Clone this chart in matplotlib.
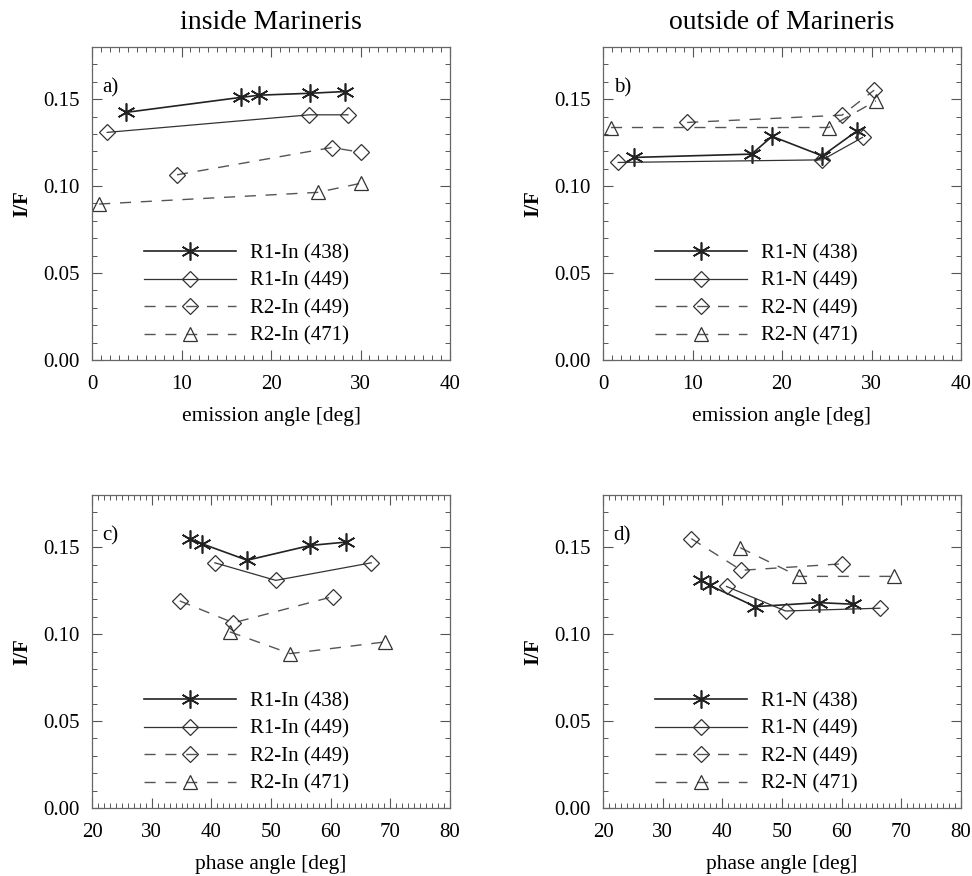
import matplotlib
matplotlib.use("Agg")
import matplotlib.pyplot as plt
from matplotlib.ticker import MultipleLocator, FormatStrFormatter

plt.rcParams['font.family'] = ['Liberation Serif', 'DejaVu Serif']

# emission angle data (panels a, b)
emi_in_r1_438 = [3.8, 16.6, 18.7, 24.4, 28.3]
iof_in_r1_438 = [0.1424, 0.1510, 0.1523, 0.1534, 0.1544]
emi_in_r1_449 = [1.7, 24.3, 28.6]
iof_in_r1_449 = [0.1309, 0.1410, 0.1410]
emi_in_r2_449 = [9.5, 26.8, 30.1]
iof_in_r2_449 = [0.1065, 0.1222, 0.1194]
emi_in_r2_471 = [0.8, 25.2, 30.1]
iof_in_r2_471 = [0.0897, 0.0964, 0.1017]

emi_n_r1_438 = [3.5, 16.6, 18.9, 24.5, 28.4]
iof_n_r1_438 = [0.1165, 0.1184, 0.1286, 0.1174, 0.1318]
emi_n_r1_449 = [1.7, 24.5, 29.0]
iof_n_r1_449 = [0.1136, 0.1151, 0.1280]
emi_n_r2_449 = [9.4, 26.7, 30.3]
iof_n_r2_449 = [0.1366, 0.1408, 0.1552]
emi_n_r2_471 = [0.9, 25.2, 30.5]
iof_n_r2_471 = [0.1337, 0.1337, 0.1490]

# phase angle data (panels c, d)
pha_in_r1_438 = [36.4, 38.4, 46.0, 56.6, 62.5]
pif_in_r1_438 = [0.1549, 0.1520, 0.1425, 0.1510, 0.1529]
pha_in_r1_449 = [40.6, 50.8, 66.8]
pif_in_r1_449 = [0.1410, 0.1309, 0.1410]
pha_in_r2_449 = [34.7, 43.7, 60.4]
pif_in_r2_449 = [0.1191, 0.1065, 0.1216]
pha_in_r2_471 = [43.1, 53.2, 69.1]
pif_in_r2_471 = [0.1013, 0.0888, 0.0955]

pha_n_r1_438 = [36.4, 37.9, 45.5, 56.2, 61.9]
pif_n_r1_438 = [0.1309, 0.1280, 0.1158, 0.1181, 0.1172]
pha_n_r1_449 = [40.7, 50.6, 66.4]
pif_n_r1_449 = [0.1274, 0.1133, 0.1149]
pha_n_r2_449 = [34.8, 43.2, 60.0]
pif_n_r2_449 = [0.1549, 0.1367, 0.1404]
pha_n_r2_471 = [43.0, 52.8, 68.7]
pif_n_r2_471 = [0.1497, 0.1332, 0.1332]

labels_in = ["R1-In (438)", "R1-In (449)", "R2-In (449)", "R2-In (471)"]
labels_n = ["R1-N (438)", "R1-N (449)", "R2-N (449)", "R2-N (471)"]

star = (6, 2, 0)
styles = [
    dict(marker=star, ms=13, color='#222222', ls='-', lw=1.2, mew=1.2),
    dict(marker='D', ms=8.5, color='#333333', ls='-', lw=0.9, mfc='none', mew=0.9),
    dict(marker='D', ms=8.5, color='#555555', ls=(0, (8, 7)), lw=1.0, mfc='none', mew=0.9, mec='#333333'),
    dict(marker='^', ms=10, color='#555555', ls=(0, (8, 7)), lw=1.0, mfc='none', mew=0.9, mec='#333333'),
]

fig = plt.figure(figsize=(9.72, 8.76), dpi=100)
W, H = 972, 876
def place(x0, y0, x1, y1):
    return fig.add_axes([x0 / W, 1 - y1 / H, (x1 - x0) / W, (y1 - y0) / H])

ax_a = place(92, 47, 450, 360)
ax_b = place(603, 47, 961, 360)
ax_c = place(92, 495, 450, 808)
ax_d = place(603, 495, 961, 808)

panels = [
    (ax_a, [(emi_in_r1_438, iof_in_r1_438), (emi_in_r1_449, iof_in_r1_449),
            (emi_in_r2_449, iof_in_r2_449), (emi_in_r2_471, iof_in_r2_471)],
     labels_in, 'a)', (0, 40), 'emission angle [deg]'),
    (ax_b, [(emi_n_r1_438, iof_n_r1_438), (emi_n_r1_449, iof_n_r1_449),
            (emi_n_r2_449, iof_n_r2_449), (emi_n_r2_471, iof_n_r2_471)],
     labels_n, 'b)', (0, 40), 'emission angle [deg]'),
    (ax_c, [(pha_in_r1_438, pif_in_r1_438), (pha_in_r1_449, pif_in_r1_449),
            (pha_in_r2_449, pif_in_r2_449), (pha_in_r2_471, pif_in_r2_471)],
     labels_in, 'c)', (20, 80), 'phase angle [deg]'),
    (ax_d, [(pha_n_r1_438, pif_n_r1_438), (pha_n_r1_449, pif_n_r1_449),
            (pha_n_r2_449, pif_n_r2_449), (pha_n_r2_471, pif_n_r2_471)],
     labels_n, 'd)', (20, 80), 'phase angle [deg]'),
]

for ax, series, labels, tag, xlim, xlabel in panels:
    for (x, y), lab, st in zip(series, labels, styles):
        ax.plot(x, y, label=lab, **st)
    ax.set_xlim(*xlim)
    ax.set_ylim(0, 0.18)
    ax.xaxis.set_major_locator(MultipleLocator(10))
    ax.xaxis.set_minor_locator(MultipleLocator(1))
    ax.yaxis.set_major_locator(MultipleLocator(0.05))
    ax.yaxis.set_minor_locator(MultipleLocator(0.01))
    ax.yaxis.set_major_formatter(FormatStrFormatter('%.2f'))
    ax.tick_params(which='both', direction='in', top=True, right=True,
                   colors='#555555', labelcolor='black', labelsize=15)
    ax.tick_params(which='major', length=7, width=0.8)
    ax.tick_params(which='minor', length=3.5, width=0.7)
    ax.tick_params(axis='y', pad=9)
    ax.tick_params(axis='x', pad=11)
    for sp in ax.spines.values():
        sp.set_color('#666666')
        sp.set_linewidth(0.9)
    ax.set_xlabel(xlabel, fontsize=15.5, labelpad=9)
    ax.set_ylabel('I/F', fontsize=15, fontweight='bold', labelpad=8)
    ax.text(0.03, 0.87, tag, transform=ax.transAxes, fontsize=15, va='center')
    ax.legend(loc='lower left', bbox_to_anchor=(0.145, 0.045), frameon=False,
              fontsize=15, handlelength=4.4, handletextpad=0.7,
              labelspacing=0.38, borderpad=0, borderaxespad=0)

ax_a.set_title('inside Marineris', fontsize=20, pad=13)
ax_b.set_title('outside of Marineris', fontsize=20, pad=13)

fig.savefig('out.png', dpi=100)
